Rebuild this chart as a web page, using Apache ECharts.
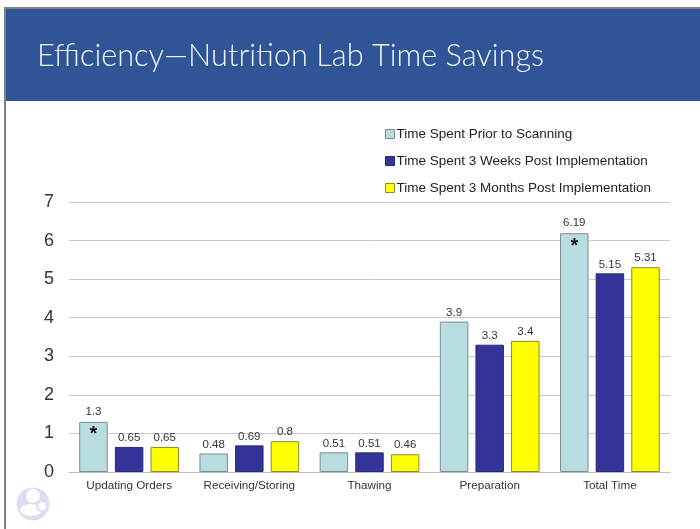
<!DOCTYPE html>
<html>
<head>
<meta charset="utf-8">
<title>Efficiency</title>
<script src="https://cdn.jsdelivr.net/npm/echarts@6/dist/echarts.min.js"></script>
<style>
  html, body { margin: 0; padding: 0; background: #fff; }
  #chart { width: 700px; height: 529px; }
</style>
</head>
<body>
<div id="chart"></div>
<script>
// 图表数据
const categories = ["Updating Orders", "Receiving/Storing", "Thawing", "Preparation", "Total Time"];
const priorValues = [1.3, 0.48, 0.51, 3.9, 6.19];
const weeksValues = [0.65, 0.69, 0.51, 3.3, 5.15];
const monthsValues = [0.65, 0.8, 0.46, 3.4, 5.31];
const starred = [true, false, false, false, true];
const seriesNames = [
  "Time Spent Prior to Scanning",
  "Time Spent 3 Weeks Post Implementation",
  "Time Spent 3 Months Post Implementation",
];
const yTicks = [0, 1, 2, 3, 4, 5, 6, 7];

const font = "'Liberation Sans', Arial, sans-serif";
const valueLabel = { show: true, position: "top", distance: 3, color: "#333", fontFamily: font, fontSize: 11.5 };

const barSeries = (name, values, color, border) => ({
  name,
  type: "bar",
  barWidth: 28.5,
  barGap: "25%",
  itemStyle: { color, borderColor: border, borderWidth: 1 },
  label: valueLabel,
  data: values,
});

const chart = echarts.init(document.getElementById("chart"), null, { renderer: "canvas" });

// 第一组柱子带星号，用双行标签画在柱内
const priorSeries = barSeries(seriesNames[0], priorValues, "#b7dde1", "#7f8c8d");
priorSeries.data = priorValues.map((v, i) =>
  starred[i]
    ? {
        value: v,
        label: {
          formatter: "{v|{c}}\n{s|*}",
          offset: [0, 29],
          rich: {
            v: { fontFamily: font, fontSize: 11.5, color: "#333", lineHeight: 20, align: "center" },
            s: { fontFamily: font, fontSize: 20, fontWeight: "bold", color: "#111", lineHeight: 26, align: "center" },
          },
        },
      }
    : v
);

chart.setOption({
  animation: false,
  backgroundColor: "#fff",
  title: {
    text: "Efficiency—Nutrition Lab Time Savings",
    left: 32,
    top: 36,
    textStyle: { fontFamily: "Lato, 'Open Sans', sans-serif", fontWeight: 300, fontSize: 30.7, color: "#f2f5fa" },
  },
  legend: {
    orient: "vertical",
    left: 380,
    top: 122,
    itemWidth: 9,
    itemHeight: 9,
    itemGap: 13,
    icon: "rect",
    itemStyle: { borderWidth: 1 },
    textStyle: { fontFamily: font, fontSize: 13.5, color: "#222", padding: [0, 0, 0, -3] },
    data: seriesNames,
  },
  grid: { left: 69, right: 30, top: 202, bottom: 57 },
  xAxis: {
    type: "category",
    data: categories,
    axisTick: { show: false },
    axisLine: { lineStyle: { color: "#bdbdbd" } },
    axisLabel: { fontFamily: font, fontSize: 11.7, color: "#333", margin: 8 },
  },
  yAxis: {
    type: "value",
    min: yTicks[0],
    max: yTicks[yTicks.length - 1],
    interval: 1,
    axisLine: { show: false },
    axisTick: { show: false },
    axisLabel: { fontFamily: font, fontSize: 18, color: "#333", margin: 15 },
    splitLine: { lineStyle: { color: "#c9c9c9", width: 1 } },
  },
  series: [
    priorSeries,
    barSeries(seriesNames[1], weeksValues, "#333399", "#2a2a7a"),
    barSeries(seriesNames[2], monthsValues, "#ffff00", "#8a8a30"),
  ],
  // 页面边框、标题栏和左下角图标
  graphic: [
    { type: "rect", shape: { x: 4, y: 7, width: 696, height: 2 }, style: { fill: "#808080" }, z: -2 },
    { type: "rect", shape: { x: 4, y: 7, width: 2, height: 522 }, style: { fill: "#808080" }, z: -2 },
    { type: "rect", shape: { x: 6, y: 9, width: 694, height: 92 }, style: { fill: "#2f5597" }, z: -1 },
    { type: "circle", shape: { cx: 33, cy: 504, r: 16.5 }, style: { fill: "#dcdcf0" }, z: -1 },
    { type: "circle", shape: { cx: 33, cy: 496, r: 7 }, style: { fill: "#fff" }, z: -1 },
    { type: "circle", x: 31, y: 510, scaleY: 0.55, shape: { r: 11 }, style: { fill: "#fff" }, z: -1 },
    { type: "circle", shape: { cx: 42, cy: 506, r: 6 }, style: { fill: "#dcdcf0" }, z: -1 },
    { type: "circle", shape: { cx: 42, cy: 506, r: 4 }, style: { fill: "#fff" }, z: -1 },
  ],
});
</script>
</body>
</html>
